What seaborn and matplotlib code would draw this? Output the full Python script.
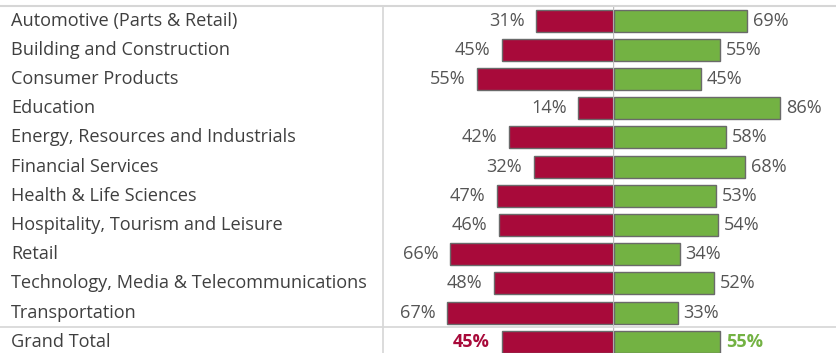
import matplotlib
matplotlib.use("Agg")
import matplotlib.pyplot as plt
import matplotlib.transforms as mtransforms
import seaborn as sns
import pandas as pd

categories = [
    "Automotive (Parts & Retail)",
    "Building and Construction",
    "Consumer Products",
    "Education",
    "Energy, Resources and Industrials",
    "Financial Services",
    "Health & Life Sciences",
    "Hospitality, Tourism and Leisure",
    "Retail",
    "Technology, Media & Telecommunications",
    "Transportation",
    "Grand Total",
]
no_values = [31, 45, 55, 14, 42, 32, 47, 46, 66, 48, 67, 45]
yes_values = [69, 55, 45, 86, 58, 68, 53, 54, 34, 52, 33, 55]

RED = "#A80A3A"
GREEN = "#73B243"
EDGE = "#6A6A6A"
GRID = "#D6D6D6"
TXT = "#3F3F3F"
VAL = "#555555"

sns.set_theme(style="white")
plt.rcParams["font.family"] = ["Open Sans", "DejaVu Sans"]

df = pd.DataFrame({"cat": categories, "no": no_values, "yes": yes_values})

W, H = 836, 353
fig = plt.figure(figsize=(W / 100, H / 100), dpi=100)

row_h = 29.2
top_px = 6
n = len(categories)
bottom_px = top_px + n * row_h
split_px = 613

def fx(px):
    return px / W

def fy(py):
    return 1 - py / H

ax_l = fig.add_axes([fx(383), fy(bottom_px), fx(split_px - 383), (bottom_px - top_px) / H])
ax_r = fig.add_axes([fx(split_px), fy(bottom_px), fx(W - split_px), (bottom_px - top_px) / H])

sns.barplot(data=df, x="no", y="cat", ax=ax_l, color=RED, width=0.75,
            edgecolor=EDGE, linewidth=1.0, saturation=1)
sns.barplot(data=df, x="yes", y="cat", ax=ax_r, color=GREEN, width=0.75,
            edgecolor=EDGE, linewidth=1.0, saturation=1)

ax_l.set_xlim(93.1, 0)
ax_r.set_xlim(-0.5, 115)
for ax in (ax_l, ax_r):
    ax.set_ylim(n - 0.5, -0.5)
    ax.set_xlabel("")
    ax.set_ylabel("")
    ax.set_xticks([])
    ax.set_yticks([])
    for s in ax.spines.values():
        s.set_visible(False)
    ax.patch.set_alpha(0)

ax_r.axvline(-0.25, color="#BDBDBD", lw=1.0, zorder=0.5)

fs = 13.1
trans = mtransforms.blended_transform_factory(fig.transFigure, ax_l.transData)
for i, (c, a, b) in enumerate(zip(categories, no_values, yes_values)):
    fig.text(fx(11), i, c, transform=trans, ha="left", va="center",
             fontsize=fs, color=TXT)
    bold = c == "Grand Total"
    ax_l.annotate(f"{a}%", (a, i), xytext=(-8.5, 0), textcoords="offset points",
                  ha="right", va="center", fontsize=fs,
                  color=RED if bold else VAL, fontweight="bold" if bold else "normal")
    ax_r.annotate(f"{b}%", (b, i), xytext=(4.3, 0), textcoords="offset points",
                  ha="left", va="center", fontsize=fs,
                  color=GREEN if bold else VAL, fontweight="bold" if bold else "normal")

# grid lines
fig.add_artist(plt.Line2D([0, 1], [fy(top_px), fy(top_px)], transform=fig.transFigure,
                          color=GRID, lw=1.5))
sep_y = top_px + (n - 1) * row_h
fig.add_artist(plt.Line2D([0, 1], [fy(sep_y), fy(sep_y)], transform=fig.transFigure,
                          color=GRID, lw=1.2))
fig.add_artist(plt.Line2D([fx(383), fx(383)], [fy(top_px), 0], transform=fig.transFigure,
                          color=GRID, lw=1.2))

fig.savefig("out.png", dpi=100)
